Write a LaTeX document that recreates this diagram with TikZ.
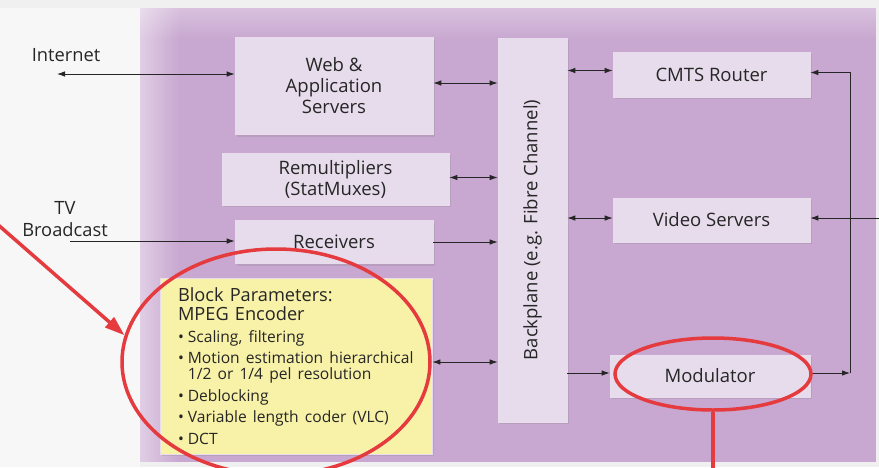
\documentclass[tikz,border=0pt]{standalone}
\usepackage{fontspec}
\setmainfont{Open Sans}
\usetikzlibrary{shapes.geometric,arrows.meta,shadows,positioning,fadings}
\definecolor{panel}{HTML}{C8A7D0}
\definecolor{boxfill}{HTML}{E7DCEC}
\definecolor{encfill}{HTML}{F8F1A8}
\definecolor{ringred}{HTML}{E53A3E}
\definecolor{ink}{HTML}{262626}
\tikzset{%
  block/.style={draw=white!60!panel, line width=0.6pt, fill=boxfill, inner sep=0pt,
    align=center, text=ink, font=\fontsize{18.5}{21}\selectfont,
    drop shadow={opacity=0.22, shadow xshift=1.5pt, shadow yshift=-2pt}},
  sidetext/.style={text=ink, align=center, font=\fontsize{18.3}{22}\selectfont},
  link/.style={line width=0.85pt, ink, {Latex[length=8pt,width=5.5pt]}-{Latex[length=8pt,width=5.5pt]}},
  feed/.style={line width=0.85pt, ink, -{Latex[length=8pt,width=5.5pt]}},
  ring/.style={ellipse, draw=ringred, line width=3.5pt, inner sep=0pt}
}
\newcommand{\encitem}{\textbullet\hspace{4pt}}

\begin{document}
\begin{tikzpicture}[x=1pt, y=-1pt]

          \useasboundingbox (0,0) rectangle (879,467);
          \fill[gray!12] (0,0) rectangle (879,467);
          \fill[gray!6] (0,8) rectangle (140,467);

          % purple panel
          \fill[panel] (140,8) rectangle (876,462);
          \fill[white, opacity=0.45, path fading=east] (140,8) rectangle (180,462);
          \fill[white, opacity=0.3, path fading=south] (140,8) rectangle (876,40);

          \node[block, minimum width=198pt, minimum height=97pt] (web) at (334,86) {Web \&\\Application\\Servers};
          \node[block, minimum width=227pt, minimum height=52pt] (remux) at (335.5,179) {Remultipliers\\(StatMuxes)};
          \node[block, minimum width=198pt, minimum height=43pt] (rx) at (334,242) {Receivers};
          \node[block, fill=encfill, minimum width=272pt, minimum height=176pt, text width=236pt, align=left] (enc) at (296,366)
            {{\fontsize{18.2}{19}\selectfont Block Parameters:\\MPEG Encoder\par}\vspace{6pt}
             \fontsize{15.6}{16}\selectfont
             \encitem Scaling, filtering\par\vspace{5.5pt}
             \encitem Motion estimation hierarchical\\\hphantom{\encitem}1/2 or 1/4 pel resolution\par\vspace{5.5pt}
             \encitem Deblocking\par\vspace{5.5pt}
             \encitem Variable length coder (VLC)\par\vspace{5.5pt}
             \encitem DCT\par};
          \node[block, minimum width=69pt, minimum height=384pt] (back) at (532.5,230) {\rotatebox{90}{Backplane (e.g. Fibre Channel)}};
          \node[block, minimum width=197pt, minimum height=45pt] (cmts) at (711.5,74.5) {CMTS Router};
          \node[block, minimum width=197pt, minimum height=44pt] (video) at (711.5,220) {Video Servers};
          \node[block, minimum width=200pt, minimum height=42pt] (mod) at (710,376) {Modulator};

          \node[sidetext] (inet) at (66,55) {Internet};
          \node[sidetext] (tv) at (65,219) {TV\\Broadcast};
          \coordinate (inet end) at (57,74);
          \coordinate (tv end) at (70,241);
          \coordinate (loop) at (850,0);
          \coordinate (feed end) at (879,218);

          \draw[link] (inet end) -- (inet end -| web.west);
          \draw[feed] (tv end) -- (tv end -| rx.west);
          \draw[link] ([yshift=3pt]web.east) -- ([yshift=3pt]web.east -| back.west);
          \draw[link] ([yshift=1.5pt]remux.east) -- ([yshift=1.5pt]remux.east -| back.west);
          \draw[feed] (rx.east) -- (rx.east -| back.west);
          \draw[link] ([yshift=4pt]enc.east) -- ([yshift=4pt]enc.east -| back.west);
          \draw[link] ([yshift=4pt]cmts.west -| back.east) -- ([yshift=4pt]cmts.west);
          \draw[link] ([yshift=2pt]video.west -| back.east) -- ([yshift=2pt]video.west);
          \draw[feed] ([yshift=3pt]mod.west -| back.east) -- ([yshift=3pt]mod.west);
          \draw[feed] ([yshift=3pt]mod.east) -- ([yshift=3pt]mod.east -| loop);
          \draw[feed] ([yshift=3pt]mod.east -| loop) |- ([yshift=2pt]cmts.east);
          \draw[feed] (feed end) -- (feed end -| video.east);

          % red marks
          \node[ring, minimum width=308pt, minimum height=226pt] (enc ring) at (276,362) {};
          \node[ring, minimum width=196pt, minimum height=72pt] (mod ring) at (713,374) {};
          \coordinate (pointer) at (-4,223);
          \coordinate (stem) at (713,470);
          \draw[ringred, line width=3.5pt, -{Triangle[length=20pt,width=13pt]}] (pointer) -- (enc ring.170);
          \draw[ringred, line width=3.5pt] (mod ring.south) -- (stem);
        \end{tikzpicture}
\end{document}
